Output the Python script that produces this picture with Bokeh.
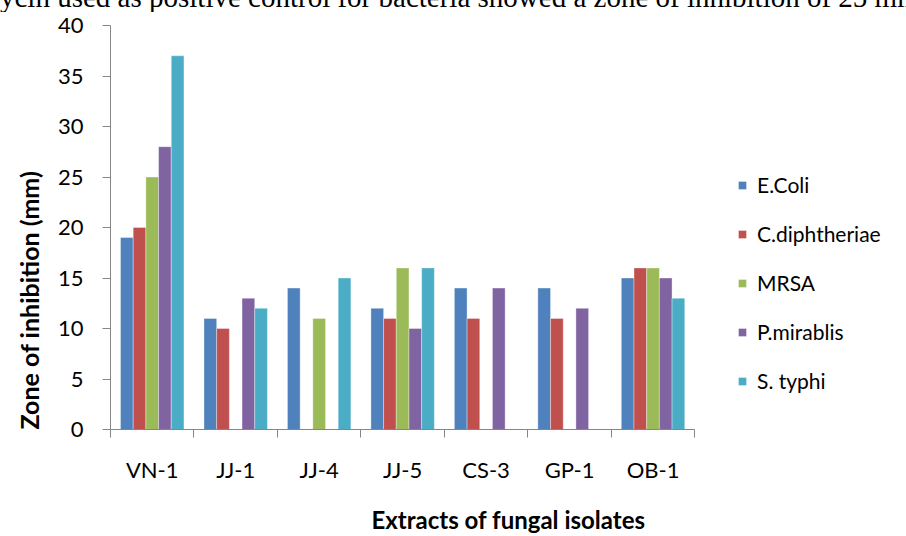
from bokeh.plotting import figure
from bokeh.models import (ColumnDataSource, Range1d, FixedTicker, Legend, LegendItem, Title, Div)
from bokeh.layouts import column
from bokeh.embed import file_html
from bokeh.resources import INLINE
import numpy as np

# ---- data ----
categories = ["VN-1", "JJ-1", "JJ-4", "JJ-5", "CS-3", "GP-1", "OB-1"]
series_names = ["E.Coli", "C.diphtheriae", "MRSA", "P.mirablis", "S. typhi"]
ecoli = [19, 11, 14, 12, 14, 14, 15]
cdiph = [20, 10, 0, 11, 11, 11, 16]
mrsa = [25, 0, 11, 16, 0, 0, 16]
pmir = [28, 13, 0, 10, 14, 12, 15]
styphi = [37, 12, 15, 16, 0, 0, 13]
series_values = [ecoli, cdiph, mrsa, pmir, styphi]
colors = ["#4F81BD", "#C0504D", "#9BBB59", "#8064A2", "#4BACC6"]
y_ticks = [0, 5, 10, 15, 20, 25, 30, 35, 40]
top_text = "ycin used as positive control for bacteria showed a zone of inhibition of 25 mm"

FONT = "Lato"
AX = "#868686"
TOP_H = 12
W, H = 906, 536
LEFT, RIGHT_AXIS_PX, BOTTOM = 109, 694, 106
n = len(categories)

cap = Div(text=('<div style="height:%dpx;overflow:hidden;margin:0;padding:0">'
                '<div style="font-family:\'Liberation Serif\';font-size:29px;line-height:29px;'
                'margin-top:-17px;white-space:nowrap;color:black">%s</div></div>') % (TOP_H, top_text),
          width=W, height=TOP_H, margin=0, styles={"overflow": "hidden"})

# extend the frame to the right so the legend lies inside it; axis line limited via bounds
x_end = n * (W - LEFT) / (RIGHT_AXIS_PX - LEFT)
p = figure(width=W, height=H - TOP_H, output_backend="svg", toolbar_location=None,
           x_range=Range1d(0, x_end), y_range=Range1d(0, 40),
           min_border_left=LEFT, min_border_right=0, min_border_top=25 - TOP_H,
           min_border_bottom=BOTTOM, margin=0)
p.outline_line_color = None
p.xgrid.visible = False
p.ygrid.visible = False

bar_w = 0.152
centers = np.arange(n) + 0.5
renderers = []
for j, (name, vals, col) in enumerate(zip(series_names, series_values, colors)):
    src = ColumnDataSource(dict(x=centers + (j - 2) * bar_w, top=vals, cat=categories))
    r = p.vbar(x="x", top="top", bottom=0, width=bar_w, source=src,
               fill_color=col, line_color="white", line_alpha=0.35, line_width=1)
    renderers.append(r)

# x axis
xa = p.xaxis[0]
xa.bounds = (0, n)
xa.ticker = FixedTicker(ticks=list(centers), minor_ticks=list(range(n + 1)))
xa.major_label_overrides = {float(c): lab for c, lab in zip(centers, categories)}
xa.major_tick_out = 0
xa.major_tick_in = 0
xa.minor_tick_out = 8
xa.minor_tick_in = 0
xa.minor_tick_line_color = AX
xa.axis_line_color = AX
xa.major_label_text_font = FONT
xa.major_label_text_font_size = "22px"
xa.major_label_text_color = "black"
xa.major_label_standoff = 18
xa.axis_label = "Extracts of fungal isolates"
xa.axis_label_text_font = FONT
xa.axis_label_text_font_size = "24px"
xa.axis_label_text_font_style = "bold"
xa.axis_label_text_color = "black"
xa.axis_label_text_line_height = 0.9
xa.axis_label_standoff = 19

# y axis
ya = p.yaxis[0]
ya.ticker = FixedTicker(ticks=y_ticks, minor_ticks=[])
ya.major_tick_out = 8
ya.major_tick_in = 0
ya.major_tick_line_color = AX
ya.axis_line_color = AX
ya.major_label_text_font = FONT
ya.major_label_text_font_size = "22px"
ya.major_label_text_color = "black"
ya.major_label_standoff = 19

ytitle = Title(text="Zone of inhibition (mm)", align="left", text_font=FONT,
               text_font_size="25px", text_font_style="bold", text_color="black",
               standoff=22)
p.add_layout(ytitle, "left")

legend = Legend(items=[LegendItem(label=s, renderers=[r]) for s, r in zip(series_names, renderers)],
                location=(627, 36), orientation="vertical")
legend.border_line_color = None
legend.background_fill_alpha = 0
legend.padding = 0
legend.margin = 0
legend.glyph_width = 10
legend.glyph_height = 10
legend.label_height = 25
legend.spacing = 24
legend.label_standoff = 10
legend.label_text_font = FONT
legend.label_text_font_size = "21px"
legend.label_text_color = "black"
p.add_layout(legend, "center")

layout = column(cap, p, spacing=0)
open("out.html", "w").write(file_html(layout, INLINE))
